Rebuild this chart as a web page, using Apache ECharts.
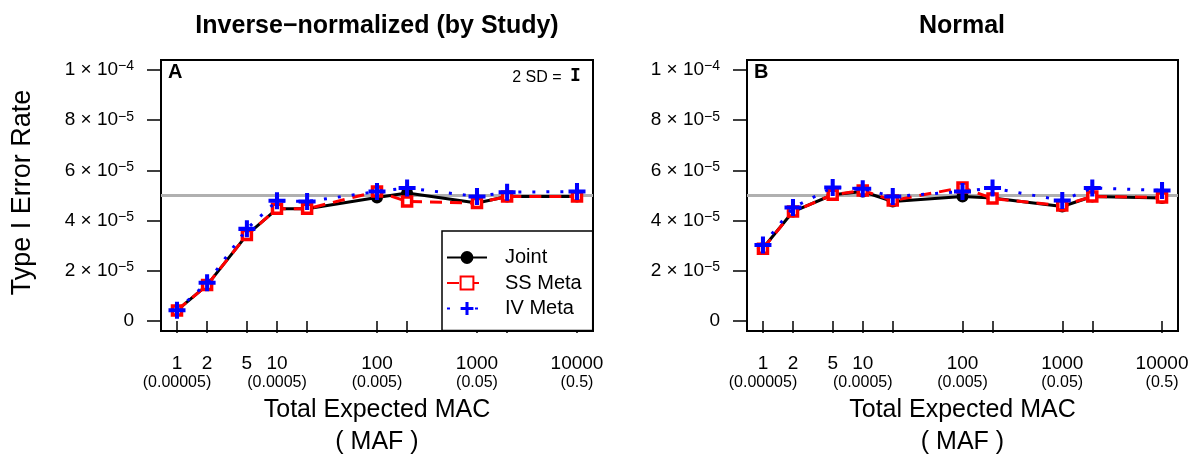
<!DOCTYPE html>
<html>
<head>
<meta charset="utf-8">
<script src="https://cdn.jsdelivr.net/npm/echarts@6/dist/echarts.min.js"></script>
<style>html,body{margin:0;padding:0;background:#fff}#c{width:1193px;height:454px}</style>
</head>
<body>
<div id="c"></div>
<script>
// ---- data ----
const macValues = [1, 2, 5, 10, 20, 100, 200, 1000, 2000, 10000];
const xLabelValues = [1, 2, 5, 10, 100, 1000, 10000];
const xLabelMain = ['1', '2', '5', '10', '100', '1000', '10000'];
const mafLabelValues = [1, 10, 100, 1000, 10000];
const mafLabels = ['(0.00005)', '(0.0005)', '(0.005)', '(0.05)', '(0.5)'];
const yTickValues = [0, 2e-5, 4e-5, 6e-5, 8e-5, 1e-4];
const yTickMantissa = ['0', '2', '4', '6', '8', '1'];
const yTickExponent = ['', '\u22125', '\u22125', '\u22125', '\u22125', '\u22124'];
const nominalAlpha = 5e-5;
const seriesNames = ['Joint', 'SS Meta', 'IV Meta'];
const panelTitles = ['Inverse\u2212normalized (by Study)', 'Normal'];
const panelLetters = ['A', 'B'];

// Panel A: Inverse-normalized (by Study)
const jointA = [4.2e-6, 1.43e-5, 3.43e-5, 4.47e-5, 4.47e-5, 4.92e-5, 5.10e-5, 4.70e-5, 4.96e-5, 4.96e-5];
const ssA    = [4.2e-6, 1.43e-5, 3.43e-5, 4.47e-5, 4.47e-5, 5.16e-5, 4.76e-5, 4.70e-5, 4.96e-5, 4.96e-5];
const ivA    = [4.3e-6, 1.52e-5, 3.67e-5, 4.79e-5, 4.76e-5, 5.16e-5, 5.30e-5, 4.96e-5, 5.13e-5, 5.16e-5];
// Panel B: Normal
const jointB = [2.90e-5, 4.36e-5, 5.03e-5, 5.16e-5, 4.76e-5, 4.96e-5, 4.90e-5, 4.56e-5, 4.96e-5, 4.90e-5];
const ssB    = [2.88e-5, 4.36e-5, 5.03e-5, 5.20e-5, 4.80e-5, 5.32e-5, 4.88e-5, 4.60e-5, 4.96e-5, 4.92e-5];
const ivB    = [3.03e-5, 4.52e-5, 5.32e-5, 5.27e-5, 4.96e-5, 5.16e-5, 5.30e-5, 4.80e-5, 5.30e-5, 5.20e-5];

// ---- chart ----
const FONT = '"Liberation Sans", Arial, Helvetica, sans-serif';
const chart = echarts.init(document.getElementById('c'), null, {renderer: 'canvas'});
const pairs = arr => macValues.map((m, i) => [m, arr[i]]);
const plusPath = 'path://M-1.9,-8 L1.9,-8 L1.9,-1.9 L8,-1.9 L8,1.9 L1.9,1.9 L1.9,8 L-1.9,8 L-1.9,1.9 L-8,1.9 L-8,-1.9 L-1.9,-1.9 Z';

function findIdx(list, v) {
  let i = list.indexOf(v);
  if (i < 0) i = list.findIndex(t => Math.abs(Math.log10(t) - Math.log10(v)) < 1e-6);
  return i;
}
function xFmt(v) { const i = findIdx(xLabelValues, v); return i < 0 ? '' : xLabelMain[i]; }
function mafFmt(v) { const i = findIdx(mafLabelValues, v); return i < 0 ? '' : mafLabels[i]; }
function yFmt(v) {
  let i = yTickValues.findIndex(t => Math.abs(t - v) < 1e-9);
  if (i < 0) return '';
  if (!yTickExponent[i]) return '{m|' + yTickMantissa[i] + '}';
  return '{m|' + yTickMantissa[i] + ' \u00d7 10}{s|' + yTickExponent[i] + '}';
}

const xMin = Math.pow(10, -0.16), xMax = Math.pow(10, 4.16);
function makeX(idx) {
  return {
    type: 'log', logBase: 10, gridIndex: idx, min: xMin, max: xMax,
    axisLine: {show: false}, splitLine: {show: false}, minorTick: {show: false},
    axisTick: {show: true, inside: false, length: 12, customValues: macValues, lineStyle: {color: '#000', width: 1.5}},
    axisLabel: {
      show: true, customValues: xLabelValues, margin: 23, formatter: xFmt, hideOverlap: false,
      showMinLabel: true, showMaxLabel: true,
      fontFamily: FONT, fontSize: 19, lineHeight: 20, color: '#000'
    },
    name: 'Total Expected MAC\n( MAF )', nameLocation: 'middle', nameGap: 63,
    nameTextStyle: {fontFamily: FONT, fontSize: 25, lineHeight: 32, color: '#000', verticalAlign: 'top'}
  };
}
function makeXSub(idx) {
  return {
    type: 'log', logBase: 10, gridIndex: idx, min: xMin, max: xMax, position: 'bottom', offset: 0,
    axisLine: {show: false}, splitLine: {show: false}, minorTick: {show: false},
    axisTick: {show: false},
    axisLabel: {
      show: true, customValues: mafLabelValues, margin: 42, formatter: mafFmt, hideOverlap: false,
      showMinLabel: true, showMaxLabel: true,
      fontFamily: FONT, fontSize: 16, lineHeight: 19, color: '#000'
    }
  };
}
function makeY(idx) {
  const y = {
    type: 'value', gridIndex: idx, min: -4e-6, max: 1.04e-4,
    axisLine: {show: false}, splitLine: {show: false},
    axisTick: {show: true, inside: false, length: 14, customValues: yTickValues, lineStyle: {color: '#000', width: 1.5}},
    axisLabel: {
      show: true, customValues: yTickValues, margin: 27, formatter: yFmt, color: '#000', align: 'right',
      showMinLabel: true, showMaxLabel: true, hideOverlap: false,
      rich: {
        m: {fontFamily: FONT, fontSize: 19, lineHeight: 19, color: '#000', verticalAlign: 'bottom'},
        s: {fontFamily: FONT, fontSize: 14, lineHeight: 14, color: '#000', verticalAlign: 'bottom', padding: [0, 0, 6, 0]}
      }
    }
  };
  if (idx === 0) {
    y.name = 'Type I Error Rate';
    y.nameLocation = 'middle';
    y.nameGap = 125;
    y.nameTextStyle = {fontFamily: FONT, fontSize: 27, color: '#000', padding: [0, 0, 0, 6]};
  }
  return y;
}
function makeSeries(idx, j, s, v) {
  const common = {xAxisIndex: idx, yAxisIndex: idx, type: 'line', showSymbol: true, animation: false, silent: true};
  return [
    Object.assign({}, common, {
      name: seriesNames[0], data: pairs(j), symbol: 'circle', symbolSize: 12, z: 3,
      lineStyle: {color: '#000', width: 3, type: 'solid'},
      itemStyle: {color: '#000', borderWidth: 0},
      markLine: {
        silent: true, symbol: 'none', z: 1, animation: false, precision: 12,
        label: {show: false},
        lineStyle: {color: '#b0b0b0', width: 3, type: 'solid'},
        data: [{yAxis: nominalAlpha}]
      }
    }),
    Object.assign({}, common, {
      name: seriesNames[1], data: pairs(s), symbol: 'rect', symbolSize: 9, z: 4,
      lineStyle: {color: '#ff0000', width: 3, type: [12, 8]},
      itemStyle: {color: '#ffffff', borderColor: '#ff0000', borderWidth: 3.5}
    }),
    Object.assign({}, common, {
      name: seriesNames[2], data: pairs(v), symbol: plusPath, symbolSize: 17, z: 5,
      lineStyle: {color: '#0000ff', width: 3, type: [3, 11]},
      itemStyle: {color: '#0000ff', borderWidth: 0}
    })
  ];
}

const option = {
  backgroundColor: '#ffffff',
  animation: false,
  textStyle: {fontFamily: FONT},
  grid: [
    {left: 161, top: 60, width: 432, height: 271, show: true, borderColor: '#000', borderWidth: 2, backgroundColor: 'transparent', containLabel: false, outerBoundsMode: 'none'},
    {left: 747, top: 60, width: 431, height: 271, show: true, borderColor: '#000', borderWidth: 2, backgroundColor: 'transparent', containLabel: false, outerBoundsMode: 'none'}
  ],
  xAxis: [makeX(0), makeX(1), makeXSub(0), makeXSub(1)],
  yAxis: [makeY(0), makeY(1)],
  legend: {
    show: true, data: seriesNames, orient: 'vertical', left: 442, top: 231,
    padding: [16.5, 11, 12, 4], itemGap: 5.5, itemWidth: 40, itemHeight: 16,
    borderColor: '#000', borderWidth: 1.5, backgroundColor: '#fff', selectedMode: false,
    textStyle: {fontFamily: FONT, fontSize: 20, lineHeight: 16, color: '#000', padding: [0, 0, 0, 13]}
  },
  series: [].concat(makeSeries(0, jointA, ssA, ivA), makeSeries(1, jointB, ssB, ivB)),
  graphic: [
    {type: 'text', x: 377, y: 14, style: {text: panelTitles[0], font: 'bold 25px ' + FONT, fill: '#000', textAlign: 'center', textVerticalAlign: 'top'}},
    {type: 'text', x: 962, y: 14, style: {text: panelTitles[1], font: 'bold 25px ' + FONT, fill: '#000', textAlign: 'center', textVerticalAlign: 'top'}},
    {type: 'text', x: 168, y: 62, style: {text: panelLetters[0], font: 'bold 20px ' + FONT, fill: '#000', textVerticalAlign: 'top'}},
    {type: 'text', x: 754, y: 62, style: {text: panelLetters[1], font: 'bold 20px ' + FONT, fill: '#000', textVerticalAlign: 'top'}},
    {type: 'text', x: 566, y: 70, style: {text: '2 SD = ', font: '16px ' + FONT, fill: '#000', textAlign: 'right', textVerticalAlign: 'top'}},
    {type: 'text', x: 570, y: 67, style: {text: 'I', font: 'bold 18px "DejaVu Sans Mono", monospace', fill: '#000', textAlign: 'left', textVerticalAlign: 'top'}}
  ]
};
chart.setOption(option);
</script>
</body>
</html>
